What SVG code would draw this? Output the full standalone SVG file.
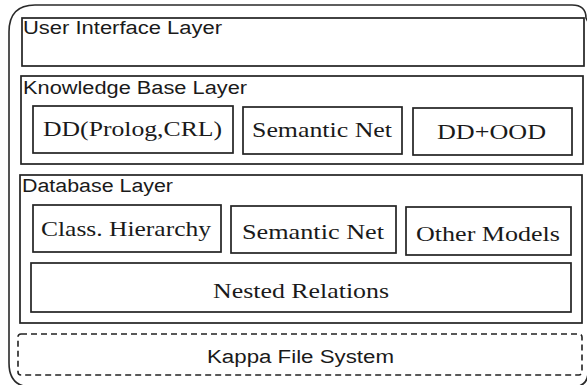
<svg xmlns="http://www.w3.org/2000/svg" width="587" height="385" viewBox="0 0 587 385">
  <style>
    .frame { fill: none; stroke: #2a2a2a; stroke-width: 1.6; }
    .box { fill: #fff; stroke: #222; stroke-width: 1.7; }
    .dash { fill: none; stroke: #222; stroke-width: 1.6; stroke-dasharray: 6 4; }
    .lbl { font-family: "Liberation Sans", "DejaVu Sans", sans-serif; font-size: 18px; fill: #1a1a1a; }
    .srf { font-family: "Liberation Serif", "DejaVu Serif", serif; font-size: 21px; fill: #1a1a1a; }
  </style>
  <rect width="587" height="385" fill="#fff"/>

  <!-- outer system frame; its right side runs along the page edge -->
  <path class="frame" d="M 9 32 Q 9 5 35 5 L 572 5 Q 586 5 586 18 L 588 22 L 588 372 Q 588 387 572 387 L 32 387 Q 9 387 9 363 Z"/>

  <g id="ui-layer">
    <rect class="box" x="22" y="18" width="562" height="48"/>
    <text class="lbl" x="23" y="34" textLength="199" lengthAdjust="spacingAndGlyphs">User Interface Layer</text>
  </g>

  <g id="kb-layer">
    <rect class="box" x="21" y="76" width="562" height="88"/>
    <text class="lbl" x="23" y="94" textLength="224" lengthAdjust="spacingAndGlyphs">Knowledge Base Layer</text>
  </g>
  <g id="kb-dd">
    <rect class="box" x="33" y="106" width="200" height="47"/>
    <text class="srf" x="43" y="136" textLength="179" lengthAdjust="spacingAndGlyphs">DD(Prolog,CRL)</text>
  </g>
  <g id="kb-semnet">
    <rect class="box" x="243" y="107" width="159" height="47"/>
    <text class="srf" x="252" y="137" textLength="140" lengthAdjust="spacingAndGlyphs">Semantic Net</text>
  </g>
  <g id="kb-ddood">
    <rect class="box" x="413" y="108" width="159" height="47"/>
    <text class="srf" x="437" y="139" textLength="109" lengthAdjust="spacingAndGlyphs">DD+OOD</text>
  </g>

  <g id="db-layer">
    <rect class="box" x="20" y="175" width="562" height="148"/>
    <text class="lbl" x="22" y="192" textLength="151" lengthAdjust="spacingAndGlyphs">Database Layer</text>
  </g>
  <g id="db-class">
    <rect class="box" x="33" y="205" width="188" height="47"/>
    <text class="srf" x="41" y="236" textLength="170" lengthAdjust="spacingAndGlyphs">Class. Hierarchy</text>
  </g>
  <g id="db-semnet">
    <rect class="box" x="231" y="206" width="165" height="47"/>
    <text class="srf" x="242" y="239" textLength="142" lengthAdjust="spacingAndGlyphs">Semantic Net</text>
  </g>
  <g id="db-other">
    <rect class="box" x="406" y="207" width="165" height="48"/>
    <text class="srf" x="416" y="241" textLength="144" lengthAdjust="spacingAndGlyphs">Other Models</text>
  </g>
  <g id="db-nested">
    <rect class="box" x="31" y="263" width="540" height="49"/>
    <text class="srf" x="213" y="298" textLength="176" lengthAdjust="spacingAndGlyphs">Nested Relations</text>
  </g>

  <g id="kappa-fs">
    <rect class="dash" x="18" y="334" width="564" height="41" rx="3"/>
    <text class="lbl" x="207" y="363" textLength="187" lengthAdjust="spacingAndGlyphs">Kappa File System</text>
  </g>

  <g id="connectors"></g>
</svg>
